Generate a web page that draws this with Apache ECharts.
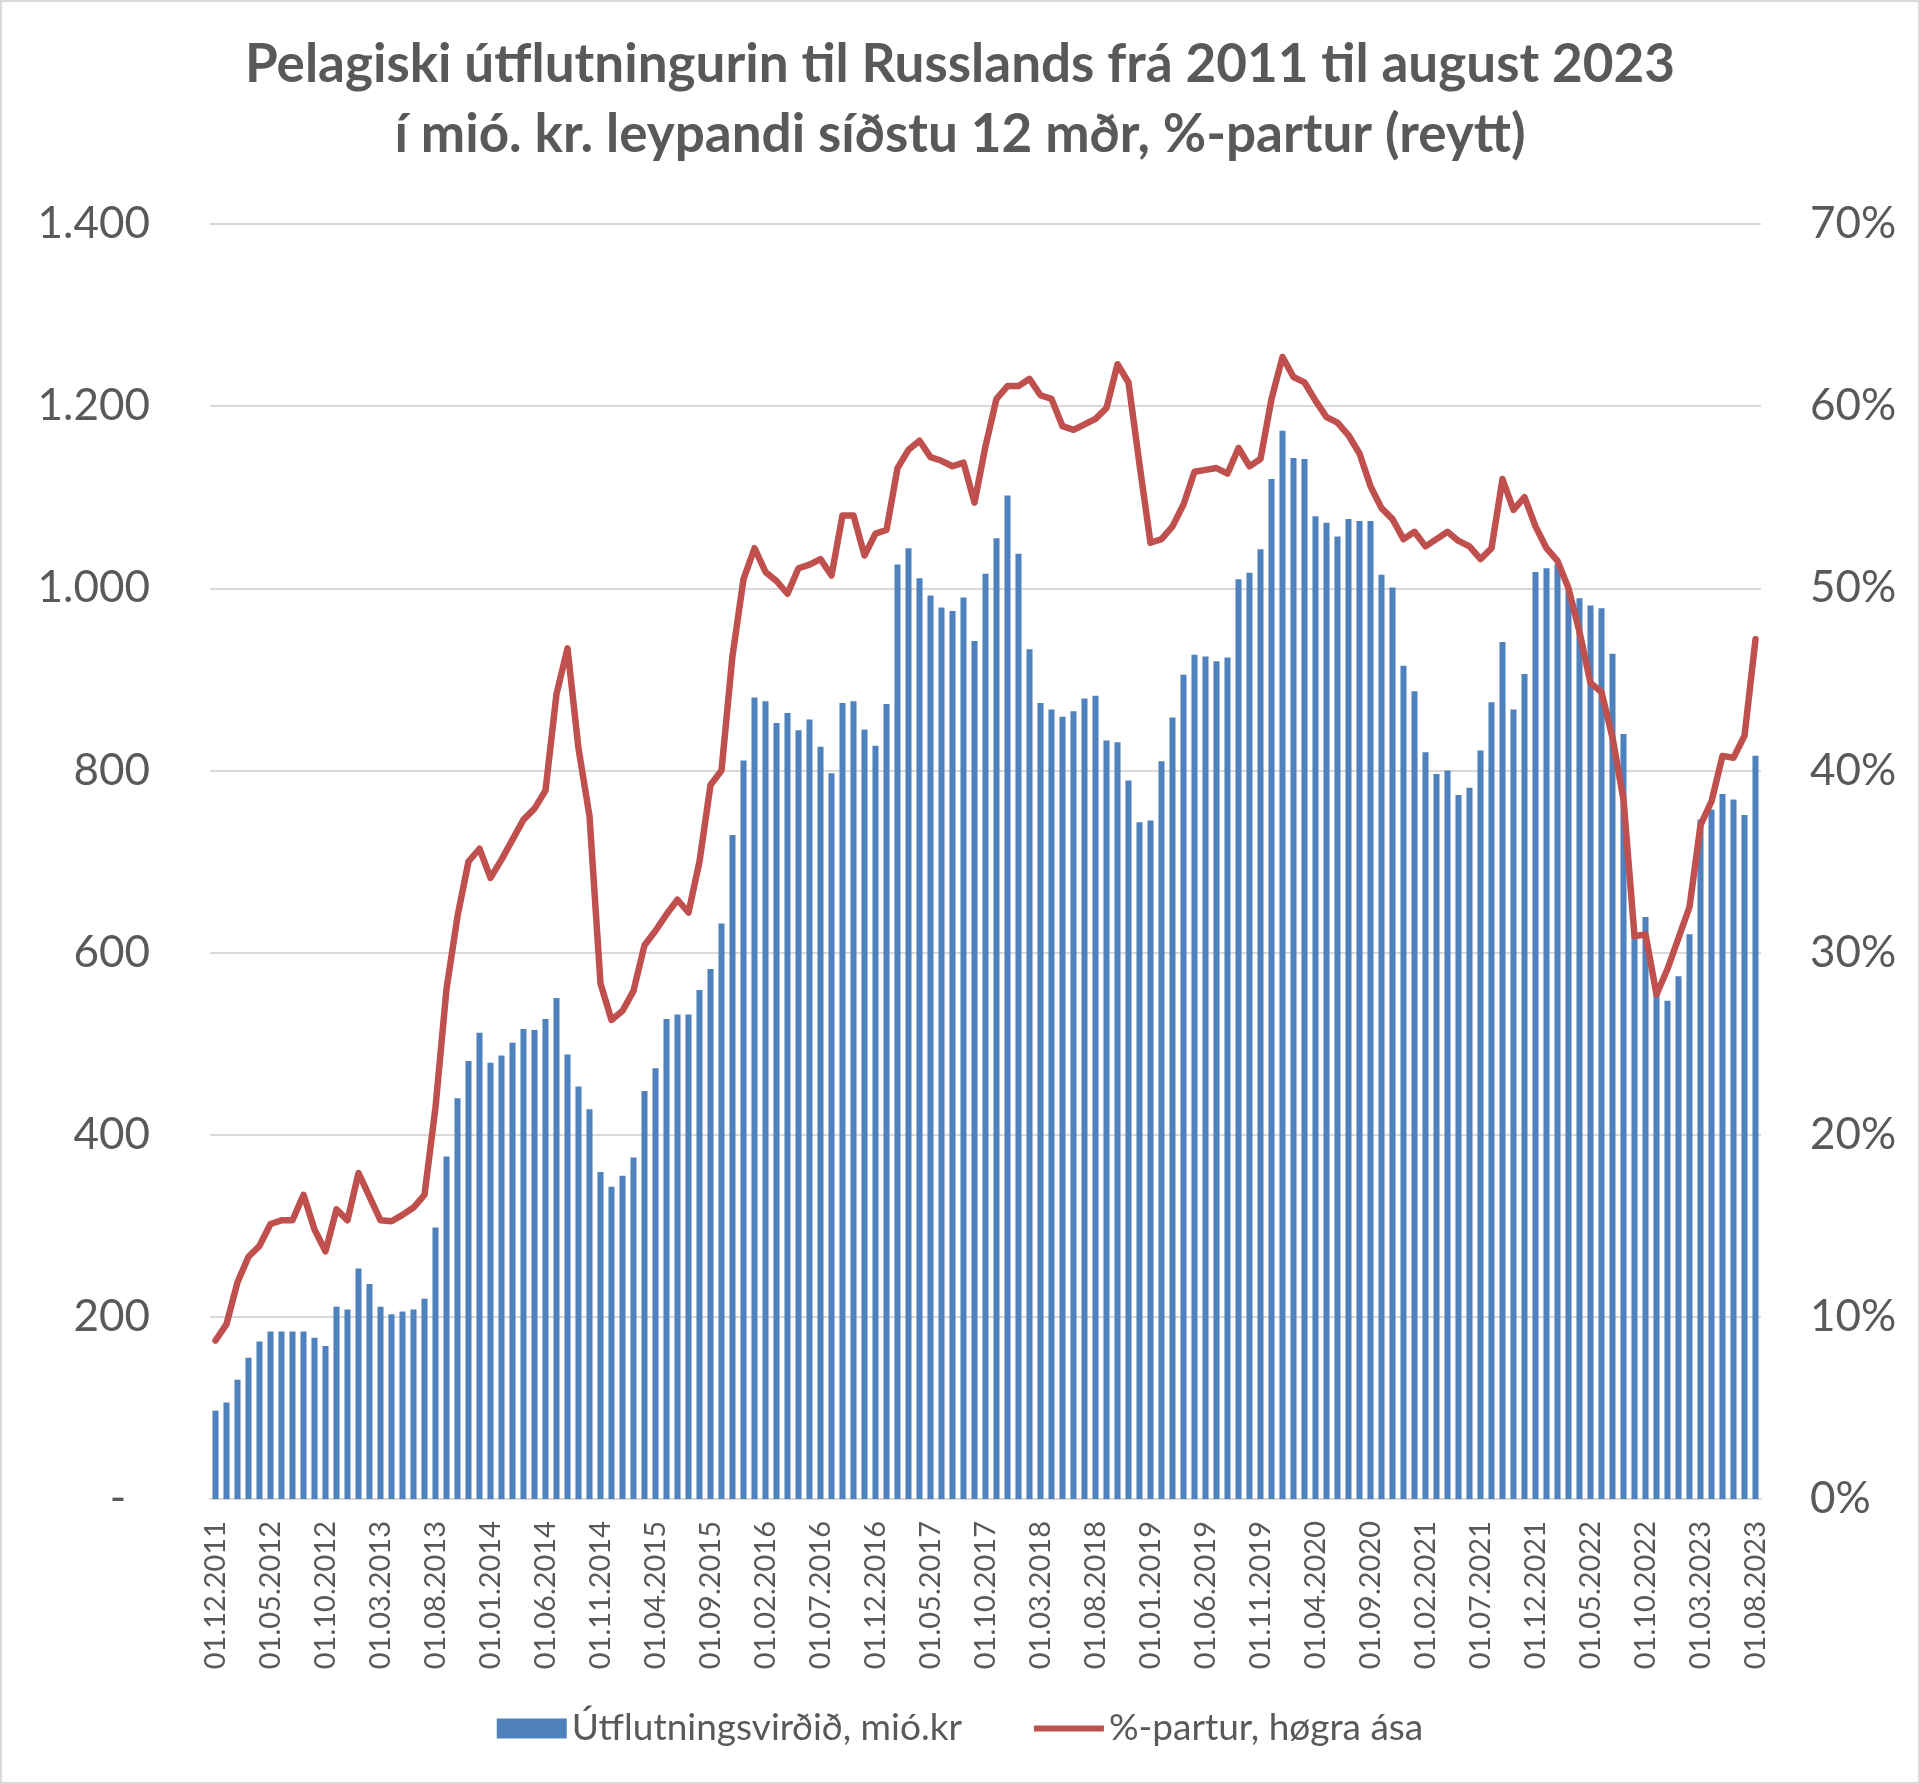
<!DOCTYPE html>
<html>
<head>
<meta charset="utf-8">
<script src="https://cdn.jsdelivr.net/npm/echarts@6/dist/echarts.min.js"></script>
<style>
  html, body { margin: 0; padding: 0; background: #fff; }
  #chart { width: 1920px; height: 1784px; box-sizing: border-box; border: 2px solid #d9d9d9; }
</style>
</head>
<body>
<div id="chart"></div>
<script>
// months from 01.12.2011 to 01.08.2023
const startYear = 2011, startMonth = 12, monthCount = 141;

// export value, mió. kr, rolling 12 months
const exportValue = [
  97, 106, 131, 155, 173, 184, 184, 184, 184, 177,
  168, 211, 208, 253, 236, 211, 203, 206, 208, 220,
  298, 376, 440, 481, 512, 479, 487, 501, 516, 515,
  527, 550, 488, 453, 428, 359, 343, 355, 375, 448,
  473, 527, 532, 532, 559, 582, 632, 729, 811, 880,
  876, 852, 863, 844, 856, 826, 797, 874, 876, 845,
  827, 873, 1026, 1044, 1011, 992, 979, 975, 990, 942,
  1016, 1055, 1102, 1038, 933, 874, 867, 859, 865, 879,
  882, 833, 831, 789, 743, 745, 810, 858, 905, 927,
  925, 920, 924, 1010, 1017, 1043, 1120, 1173, 1143, 1142,
  1079, 1072, 1057, 1076, 1074, 1074, 1015, 1001, 915, 887,
  820, 796, 800, 773, 781, 822, 875, 941, 867, 906,
  1018, 1022, 1026, 1000, 989, 981, 978, 928, 840, 618,
  639, 556, 547, 574, 620, 746, 757, 774, 768, 751,
  816
];

// share of total, %
const sharePct = [
  8.7, 9.6, 11.9, 13.3, 13.9, 15.1, 15.3, 15.3, 16.7, 14.8,
  13.6, 15.9, 15.3, 17.9, 16.6, 15.3, 15.25, 15.6, 16.0, 16.7,
  21.5, 28.0, 32.0, 35.0, 35.7, 34.1, 35.1, 36.2, 37.3, 37.9,
  38.9, 44.2, 46.7, 41.2, 37.5, 28.3, 26.3, 26.8, 27.9, 30.4,
  31.2, 32.1, 32.9, 32.2, 35.0, 39.2, 40.0, 46.3, 50.5, 52.2,
  50.9, 50.4, 49.7, 51.1, 51.3, 51.6, 50.7, 54.0, 54.0, 51.8,
  53.0, 53.2, 56.6, 57.6, 58.1, 57.2, 57.0, 56.7, 56.9, 54.7,
  57.8, 60.4, 61.1, 61.1, 61.5, 60.6, 60.4, 58.9, 58.7, 59.0,
  59.3, 59.9, 62.3, 61.3, 56.8, 52.5, 52.7, 53.4, 54.6, 56.4,
  56.5, 56.6, 56.3, 57.7, 56.7, 57.1, 60.4, 62.7, 61.6, 61.3,
  60.3, 59.4, 59.1, 58.4, 57.4, 55.6, 54.4, 53.8, 52.7, 53.1,
  52.3, 52.7, 53.1, 52.6, 52.3, 51.6, 52.2, 56.0, 54.3, 55.0,
  53.4, 52.2, 51.5, 50.0, 47.6, 44.8, 44.3, 41.8, 38.4, 30.9,
  31.0, 27.7, 29.1, 30.8, 32.5, 37.0, 38.3, 40.8, 40.7, 41.9,
  47.2
];

const seriesNames = ['Útflutningsvirðið, mió.kr', '%-partur, høgra ása'];

const months = [];
for (let i = 0; i < monthCount; i++) {
  const m = (startMonth - 1 + i) % 12 + 1;
  const y = startYear + Math.floor((startMonth - 1 + i) / 12);
  months.push('01.' + String(m).padStart(2, '0') + '.' + y);
}

const font = 'Lato, "Open Sans", sans-serif';
const textColor = '#595959';
const barColor = '#4F81BD';
const lineColor = '#C0504D';

const chart = echarts.init(document.getElementById('chart'));

chart.setOption({
  backgroundColor: '#fff',
  animation: false,
  textStyle: { fontFamily: font },
  title: {
    text: 'Pelagiski útflutningurin til Russlands frá 2011 til august 2023\ní mió. kr. leypandi síðstu 12 mðr, %-partur (reytt)',
    left: 'center',
    top: 23,
    textStyle: {
      fontFamily: font,
      fontSize: 53,
      fontWeight: 'bold',
      color: textColor,
      lineHeight: 70
    }
  },
  legend: {
    bottom: 30,
    left: 'center',
    itemWidth: 70,
    itemHeight: 20,
    itemGap: 72,
    textStyle: { fontFamily: font, fontSize: 37, color: textColor },
    data: [
      { name: seriesNames[0], icon: 'path://M0,0h70v20h-70z', itemStyle: { color: barColor, decal: 'none', borderWidth: 0 } },
      { name: seriesNames[1], icon: 'path://M0,0 M0,7h70v6h-70z M70,20', itemStyle: { color: lineColor } }
    ]
  },
  grid: { left: 208, right: 157, top: 222, bottom: 283 },
  xAxis: {
    type: 'category',
    data: months,
    boundaryGap: true,
    axisLine: { lineStyle: { color: '#d9d9d9', width: 2 } },
    axisTick: { show: false },
    axisLabel: {
      interval: 4,
      rotate: 90,
      margin: 22,
      fontFamily: font,
      fontSize: 29,
      color: textColor
    }
  },
  yAxis: [
    {
      type: 'value',
      min: 0,
      max: 1400,
      interval: 200,
      axisLine: { show: false },
      axisTick: { show: false },
      splitLine: { lineStyle: { color: '#d9d9d9', width: 2 } },
      axisLabel: {
        margin: 60,
        fontFamily: font,
        fontSize: 44,
        color: textColor,
        formatter: v => v === 0 ? '{d|-}' : String(v).replace(/\B(?=(\d{3})+(?!\d))/g, '.'),
        rich: { d: { fontFamily: font, fontSize: 44, color: textColor, padding: [0, 24, 0, 0] } }
      }
    },
    {
      type: 'value',
      min: 0,
      max: 70,
      interval: 10,
      axisLine: { show: false },
      axisTick: { show: false },
      splitLine: { show: false },
      axisLabel: {
        margin: 49,
        fontFamily: font,
        fontSize: 44,
        color: textColor,
        formatter: '{value}%'
      }
    }
  ],
  series: [
    {
      name: seriesNames[0],
      type: 'bar',
      data: exportValue,
      barWidth: '55%',
      itemStyle: { color: barColor }
    },
    {
      name: seriesNames[1],
      type: 'line',
      yAxisIndex: 1,
      data: sharePct,
      symbol: 'none',
      z: 5,
      lineStyle: { color: lineColor, width: 6.5, join: 'round', cap: 'round' },
      itemStyle: { color: lineColor }
    }
  ]
});
</script>
</body>
</html>
